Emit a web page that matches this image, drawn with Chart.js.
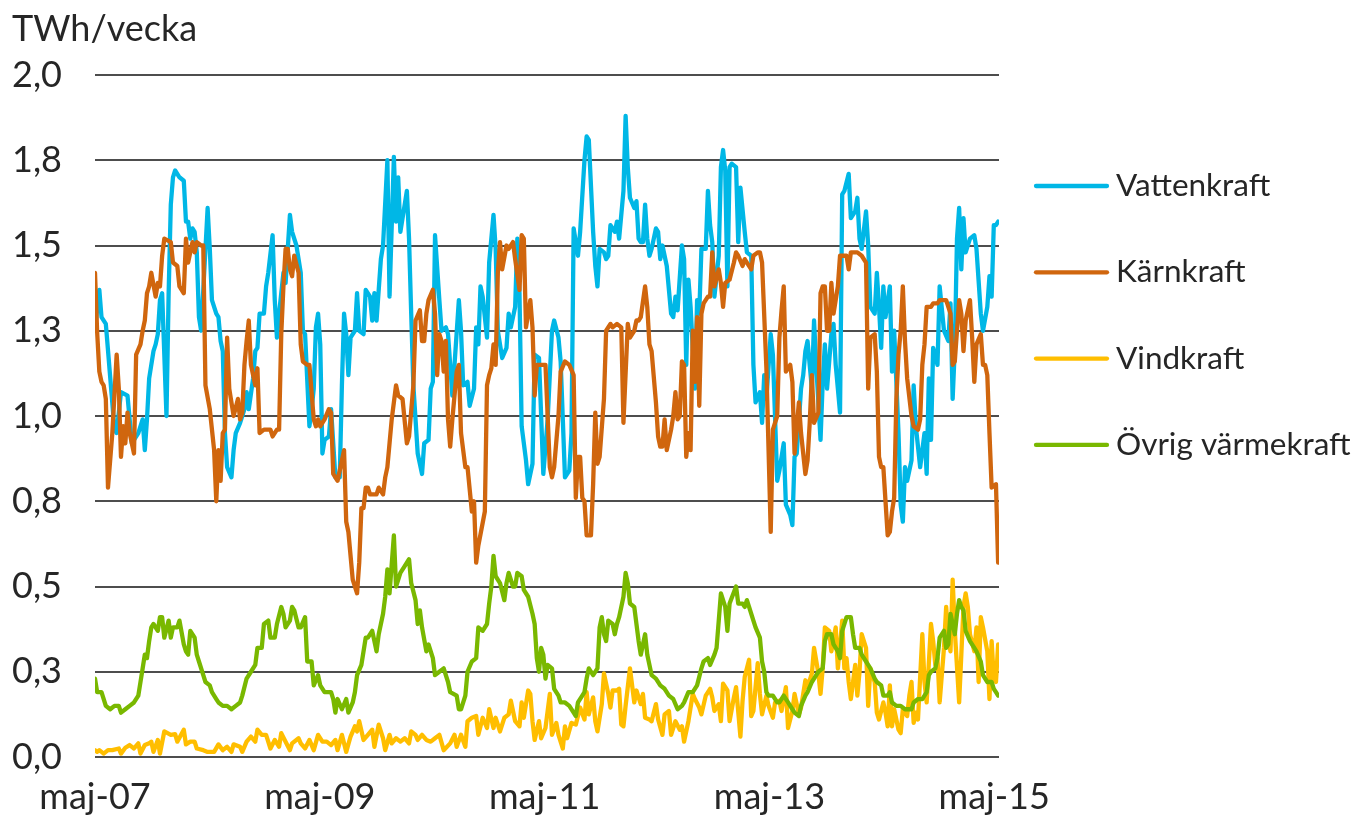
<!DOCTYPE html>
<html><head><meta charset="utf-8">
<script src="https://cdn.jsdelivr.net/npm/chart.js@4.4.0/dist/chart.umd.min.js"></script>
<style>html,body{margin:0;padding:0;background:#fff;}#wrap{width:1355px;height:815px;}</style>
</head><body><div id="wrap"><canvas id="c" width="1355" height="815"></canvas></div>
<script>
// x = week index since maj-07, y = TWh/vecka
const unitLabel = 'TWh/vecka';
const seriesNames = ['Vattenkraft', 'Kärnkraft', 'Vindkraft', 'Övrig värmekraft'];
const seriesColors = ['#00B7E6', '#D0660E', '#FFBE00', '#79B800'];
const tickWeeks = [0, 103.8, 207.6, 311.4, 415.2];
const tickLabels = ['maj-07', 'maj-09', 'maj-11', 'maj-13', 'maj-15'];

const vattenkraft = [[0,1.255],[2,1.37],[3,1.29],[5,1.27],[9,0.96],[10,0.95],[12,1.07],[15,1.06],[17,0.92],[20,0.95],[22,0.99],[23,0.90],[24,0.99],[25,1.11],[27,1.19],[28,1.21],[29,1.24],[30,1.34],[31,1.36],[33,1.00],[34,1.36],[35,1.62],[36,1.70],[37,1.72],[39,1.70],[41,1.69],[42,1.57],[43,1.57],[44,1.52],[45,1.55],[46,1.54],[47,1.48],[48,1.29],[49,1.25],[52,1.61],[53,1.49],[54,1.34],[56,1.30],[57,1.29],[58,1.22],[59,1.19],[60,0.95],[61,0.85],[63,0.82],[64,0.90],[65,0.95],[67,0.98],[69,1.02],[70,1.07],[71,1.02],[73,1.11],[74,1.19],[75,1.20],[76,1.30],[78,1.30],[79,1.38],[80,1.42],[82,1.53],[83,1.34],[84,1.23],[85,1.30],[87,1.42],[88,1.39],[90,1.59],[91,1.54],[93,1.50],[95,1.42],[96,1.25],[97,1.24],[99,0.97],[100,1.02],[101,1.08],[102,1.26],[103,1.30],[104,1.21],[105,0.89],[106,0.93],[108,0.94],[109,1.02],[111,0.82],[113,0.82],[114,1.09],[115,1.30],[116,1.24],[117,1.12],[118,1.23],[120,1.25],[121,1.36],[122,1.25],[124,1.24],[125,1.37],[127,1.35],[128,1.28],[129,1.36],[130,1.28],[132,1.46],[133,1.50],[135,1.75],[136,1.35],[138,1.76],[139,1.57],[140,1.70],[141,1.54],[142,1.58],[144,1.66],[145,1.52],[146,1.30],[147,1.09],[149,0.89],[151,0.83],[152,0.92],[154,0.93],[155,1.08],[156,1.10],[157,1.53],[159,1.34],[160,1.25],[162,1.26],[163,1.24],[164,1.15],[165,1.06],[166,1.15],[168,1.34],[169,1.25],[170,1.09],[172,1.10],[173,1.03],[175,1.08],[176,1.26],[177,1.21],[178,1.38],[179,1.35],[181,1.23],[182,1.45],[184,1.59],[185,1.49],[186,1.25],[188,1.17],[190,1.20],[191,1.30],[192,1.26],[194,1.32],[195,1.52],[196,1.36],[197,0.97],[199,0.87],[200,0.80],[202,0.86],[203,1.18],[205,1.17],[207,0.83],[209,0.99],[211,1.25],[212,1.28],[214,1.23],[215,1.16],[217,0.82],[219,0.84],[220,0.95],[221,1.55],[223,1.47],[224,1.54],[226,1.75],[227,1.82],[228,1.81],[230,1.54],[231,1.44],[232,1.38],[233,1.49],[235,1.48],[236,1.46],[237,1.47],[238,1.56],[240,1.54],[241,1.57],[242,1.52],[244,1.66],[245,1.88],[246,1.73],[247,1.64],[249,1.61],[250,1.63],[251,1.52],[252,1.51],[253,1.51],[254,1.62],[255,1.52],[256,1.47],[257,1.49],[259,1.55],[260,1.54],[261,1.46],[262,1.50],[264,1.44],[266,1.30],[267,1.29],[268,1.35],[269,1.31],[271,1.50],[272,1.46],[273,1.15],[274,1.40],[275,1.32],[277,1.08],[278,1.34],[279,1.30],[280,1.49],[282,1.49],[283,1.66],[284,1.56],[285,1.51],[286,1.35],[288,1.47],[289,1.73],[290,1.78],[291,1.72],[292,1.38],[293,1.73],[294,1.74],[296,1.73],[297,1.51],[298,1.67],[300,1.54],[301,1.48],[303,1.47],[304,1.15],[305,1.04],[307,1.07],[308,0.98],[309,1.12],[310,1.05],[312,1.24],[313,1.18],[315,0.81],[316,0.84],[318,0.92],[319,0.74],[321,0.71],[322,0.68],[323,0.88],[324,0.89],[326,1.08],[327,1.12],[328,1.19],[329,1.22],[331,1.08],[332,1.28],[333,1.15],[335,0.93],[336,1.10],[337,1.21],[338,1.08],[340,1.24],[341,1.27],[342,1.15],[344,1.01],[345,1.65],[346,1.66],[348,1.71],[349,1.58],[351,1.60],[352,1.64],[353,1.52],[354,1.49],[356,1.60],[357,1.50],[358,1.32],[360,1.30],[361,1.42],[362,1.32],[363,1.20],[364,1.38],[365,1.29],[367,1.38],[368,1.13],[369,1.25],[371,0.95],[372,0.74],[373,0.69],[374,0.85],[375,0.81],[377,0.87],[378,1.09],[379,0.97],[381,0.85],[383,0.95],[384,0.83],[385,1.11],[386,0.93],[387,1.20],[389,1.15],[390,1.38],[392,1.25],[394,1.22],[395,1.33],[396,1.05],[397,1.20],[398,1.52],[399,1.61],[400,1.43],[401,1.58],[402,1.48],[404,1.52],[406,1.53],[407,1.49],[409,1.30],[410,1.25],[412,1.32],[413,1.41],[414,1.35],[415,1.56],[416,1.56],[417,1.57]];

const karnkraft = [[0,1.42],[1,1.245],[2,1.13],[3,1.10],[4,1.09],[5,1.05],[6,0.79],[8,0.95],[10,1.18],[11,1.08],[12,0.88],[13,0.97],[14,0.92],[15,1.01],[16,0.95],[18,0.89],[19,1.18],[21,1.21],[22,1.25],[23,1.28],[24,1.36],[25,1.38],[26,1.42],[28,1.35],[29,1.39],[30,1.38],[31,1.47],[32,1.52],[35,1.51],[36,1.45],[38,1.44],[39,1.38],[41,1.36],[42,1.52],[43,1.45],[44,1.48],[45,1.51],[46,1.48],[47,1.51],[49,1.50],[50,1.50],[51,1.09],[53,1.02],[55,0.90],[56,0.75],[57,0.90],[58,0.81],[59,0.95],[60,0.96],[61,1.23],[62,1.08],[64,1.00],[66,1.05],[67,0.99],[68,1.01],[69,1.15],[70,1.22],[71,1.28],[72,1.15],[74,1.09],[75,1.14],[76,0.95],[78,0.96],[81,0.96],[82,0.94],[84,0.96],[85,0.96],[86,1.24],[87,1.38],[88,1.49],[89,1.49],[90,1.43],[91,1.41],[92,1.47],[94,1.42],[95,1.21],[96,1.16],[98,1.15],[99,1.15],[101,0.99],[102,0.97],[103,0.99],[104,0.97],[106,0.99],[108,1.02],[109,1.01],[110,0.83],[112,0.81],[113,0.84],[115,0.90],[116,0.69],[117,0.66],[119,0.52],[121,0.48],[122,0.57],[123,0.73],[124,0.73],[125,0.79],[126,0.79],[127,0.77],[130,0.77],[131,0.79],[133,0.77],[134,0.82],[135,0.85],[136,0.92],[137,0.99],[139,1.09],[140,1.06],[142,1.05],[144,0.92],[145,0.94],[147,1.09],[148,1.28],[150,1.31],[151,1.22],[152,1.22],[153,1.30],[154,1.34],[156,1.37],[157,1.30],[158,1.12],[159,1.24],[160,1.22],[161,1.13],[162,1.22],[163,0.99],[164,0.91],[165,0.99],[167,1.13],[168,1.15],[169,0.95],[171,0.85],[172,0.85],[174,0.72],[175,0.75],[176,0.57],[177,0.62],[180,0.72],[181,1.09],[182,1.12],[183,1.14],[184,1.21],[185,1.15],[186,1.42],[187,1.51],[188,1.43],[190,1.50],[191,1.49],[193,1.51],[194,1.46],[196,1.37],[197,1.53],[198,1.52],[199,1.26],[201,1.34],[202,1.26],[203,1.06],[204,1.15],[205,1.15],[207,1.15],[208,1.15],[210,0.85],[211,0.82],[212,0.85],[214,1.00],[215,1.13],[217,1.16],[219,1.15],[221,1.12],[222,0.76],[223,0.88],[224,0.88],[225,0.76],[226,0.75],[227,0.65],[229,0.65],[230,0.80],[231,1.01],[232,0.86],[233,0.88],[235,1.05],[236,1.25],[238,1.27],[239,1.26],[241,1.27],[243,1.26],[244,0.98],[246,1.27],[247,1.23],[249,1.25],[250,1.28],[251,1.28],[252,1.29],[254,1.38],[255,1.32],[256,1.21],[257,1.19],[259,1.04],[260,0.94],[261,0.91],[262,0.91],[263,0.99],[264,0.90],[266,0.96],[267,1.00],[268,1.07],[269,0.99],[270,1.00],[271,1.16],[272,1.15],[273,0.88],[274,0.95],[275,0.90],[276,1.25],[277,1.10],[278,1.29],[279,1.03],[280,1.30],[281,1.33],[283,1.35],[284,1.35],[285,1.48],[286,1.38],[288,1.43],[289,1.39],[290,1.32],[291,1.39],[293,1.40],[295,1.45],[296,1.48],[297,1.47],[299,1.44],[300,1.46],[301,1.45],[303,1.43],[304,1.47],[306,1.48],[307,1.48],[308,1.45],[310,1.14],[312,0.66],[313,0.96],[315,1.00],[316,1.23],[317,1.31],[318,1.38],[319,1.13],[321,1.15],[322,1.10],[323,0.89],[325,1.04],[326,0.95],[328,0.83],[329,0.87],[330,0.98],[331,1.12],[332,0.98],[334,1.01],[335,1.36],[336,1.38],[337,1.38],[338,1.25],[339,1.25],[340,1.39],[341,1.30],[343,1.38],[344,1.47],[346,1.47],[347,1.47],[348,1.43],[349,1.48],[352,1.48],[354,1.47],[356,1.45],[357,1.08],[358,1.23],[360,1.24],[361,1.13],[362,0.88],[363,0.85],[364,0.85],[365,0.75],[366,0.65],[367,0.66],[368,0.72],[369,0.76],[370,1.05],[371,1.18],[372,1.25],[373,1.38],[374,1.22],[375,1.11],[377,1.00],[378,0.97],[380,0.96],[381,0.99],[382,1.15],[383,1.21],[384,1.32],[386,1.32],[387,1.33],[389,1.33],[390,1.34],[392,1.34],[393,1.34],[395,1.30],[396,1.15],[397,1.16],[399,1.34],[400,1.30],[401,1.19],[402,1.28],[404,1.34],[405,1.23],[406,1.10],[407,1.21],[409,1.24],[410,1.15],[411,1.15],[412,1.12],[413,0.95],[414,0.79],[416,0.80],[417,0.57]];

const vindkraft = [[0,0.02],[1,0.015],[2,0.02],[4,0.01],[6,0.02],[8,0.02],[11,0.025],[12,0.01],[14,0.027],[16,0.035],[18,0.025],[20,0.04],[21,0.01],[23,0.035],[25,0.04],[26,0.045],[27,0.015],[29,0.05],[30,0.01],[32,0.075],[35,0.065],[37,0.067],[38,0.045],[41,0.08],[42,0.037],[44,0.045],[46,0.045],[47,0.025],[50,0.02],[52,0.015],[55,0.015],[57,0.037],[59,0.02],[61,0.03],[63,0.015],[64,0.037],[67,0.03],[68,0.015],[70,0.045],[72,0.06],[74,0.045],[75,0.08],[77,0.065],[79,0.065],[81,0.025],[83,0.05],[85,0.03],[86,0.07],[88,0.045],[90,0.02],[91,0.04],[94,0.055],[95,0.04],[97,0.025],[99,0.05],[101,0.02],[103,0.065],[105,0.045],[107,0.045],[109,0.035],[111,0.05],[112,0.02],[114,0.065],[116,0.015],[118,0.06],[120,0.09],[121,0.075],[122,0.105],[124,0.05],[126,0.065],[128,0.08],[129,0.03],[131,0.095],[133,0.055],[134,0.02],[136,0.065],[137,0.04],[139,0.055],[141,0.045],[143,0.055],[145,0.04],[146,0.075],[148,0.065],[149,0.05],[151,0.065],[153,0.05],[155,0.045],[157,0.055],[159,0.065],[161,0.02],[164,0.04],[166,0.065],[167,0.03],[169,0.065],[171,0.03],[172,0.105],[174,0.115],[176,0.12],[177,0.065],[179,0.115],[181,0.085],[182,0.14],[184,0.085],[185,0.115],[187,0.075],[189,0.115],[191,0.125],[192,0.165],[194,0.105],[196,0.09],[197,0.16],[198,0.115],[200,0.195],[201,0.185],[202,0.105],[203,0.05],[205,0.105],[206,0.055],[208,0.085],[210,0.185],[211,0.065],[213,0.10],[214,0.065],[216,0.025],[217,0.09],[218,0.055],[220,0.10],[222,0.095],[223,0.12],[224,0.145],[226,0.11],[227,0.19],[228,0.125],[230,0.175],[231,0.105],[232,0.075],[234,0.155],[235,0.245],[237,0.185],[238,0.145],[239,0.195],[241,0.195],[242,0.20],[243,0.095],[244,0.09],[245,0.15],[247,0.26],[249,0.16],[250,0.195],[252,0.155],[253,0.185],[254,0.115],[256,0.11],[257,0.105],[259,0.155],[260,0.11],[262,0.065],[263,0.125],[265,0.135],[266,0.065],[268,0.105],[270,0.08],[271,0.09],[272,0.045],[274,0.105],[276,0.185],[277,0.17],[279,0.145],[280,0.125],[282,0.18],[284,0.20],[285,0.175],[286,0.135],[288,0.155],[289,0.105],[290,0.215],[292,0.195],[293,0.105],[295,0.175],[296,0.205],[298,0.06],[299,0.165],[300,0.235],[302,0.285],[303,0.12],[304,0.135],[306,0.275],[307,0.185],[308,0.125],[310,0.18],[311,0.15],[313,0.115],[314,0.16],[316,0.165],[317,0.135],[319,0.205],[320,0.085],[322,0.135],[323,0.185],[325,0.125],[326,0.145],[328,0.225],[329,0.205],[331,0.245],[332,0.32],[334,0.245],[335,0.185],[336,0.26],[337,0.38],[339,0.37],[340,0.31],[342,0.38],[343,0.26],[345,0.40],[346,0.26],[347,0.29],[348,0.22],[349,0.17],[351,0.27],[352,0.18],[353,0.25],[354,0.36],[356,0.32],[357,0.15],[358,0.26],[360,0.22],[361,0.13],[362,0.11],[364,0.16],[365,0.13],[366,0.09],[367,0.21],[368,0.09],[369,0.14],[371,0.08],[372,0.07],[373,0.14],[375,0.12],[376,0.18],[377,0.22],[378,0.10],[379,0.13],[380,0.11],[382,0.36],[383,0.22],[384,0.16],[386,0.39],[387,0.34],[388,0.27],[389,0.29],[390,0.16],[392,0.32],[393,0.44],[394,0.35],[395,0.31],[396,0.52],[397,0.37],[399,0.16],[400,0.30],[401,0.44],[402,0.48],[403,0.44],[404,0.36],[406,0.31],[407,0.38],[408,0.22],[409,0.41],[410,0.38],[412,0.31],[413,0.17],[414,0.34],[415,0.23],[416,0.22],[417,0.33]];

const ovrigVarmekraft = [[0,0.23],[1,0.19],[3,0.19],[5,0.15],[7,0.14],[9,0.15],[11,0.15],[12,0.13],[14,0.14],[16,0.15],[18,0.16],[20,0.18],[21,0.22],[22,0.26],[23,0.30],[24,0.29],[25,0.34],[26,0.38],[27,0.39],[29,0.37],[30,0.41],[31,0.41],[32,0.35],[34,0.40],[35,0.35],[36,0.38],[38,0.38],[39,0.40],[41,0.33],[42,0.31],[43,0.30],[44,0.37],[46,0.35],[47,0.30],[48,0.28],[50,0.24],[51,0.22],[53,0.21],[54,0.19],[56,0.17],[57,0.16],[59,0.15],[61,0.15],[63,0.14],[65,0.15],[67,0.16],[68,0.18],[70,0.23],[72,0.25],[74,0.27],[75,0.32],[77,0.32],[78,0.39],[80,0.40],[81,0.35],[83,0.35],[84,0.39],[86,0.44],[87,0.42],[88,0.38],[90,0.40],[91,0.44],[92,0.43],[94,0.38],[95,0.38],[97,0.41],[98,0.28],[100,0.28],[101,0.21],[103,0.24],[104,0.21],[106,0.19],[107,0.19],[109,0.19],[110,0.17],[111,0.13],[112,0.17],[114,0.14],[116,0.17],[117,0.13],[119,0.16],[120,0.19],[121,0.24],[123,0.27],[125,0.35],[126,0.35],[128,0.37],[130,0.31],[131,0.36],[133,0.42],[134,0.47],[135,0.55],[136,0.48],[138,0.65],[139,0.50],[141,0.54],[143,0.56],[145,0.58],[146,0.51],[148,0.46],[149,0.39],[150,0.43],[151,0.38],[153,0.31],[154,0.33],[156,0.29],[157,0.24],[159,0.25],[161,0.26],[163,0.22],[164,0.19],[167,0.18],[168,0.14],[169,0.14],[171,0.18],[172,0.25],[174,0.28],[176,0.29],[177,0.38],[179,0.37],[181,0.39],[182,0.45],[183,0.50],[184,0.59],[185,0.53],[187,0.51],[189,0.46],[190,0.51],[191,0.54],[193,0.50],[194,0.50],[195,0.54],[197,0.53],[198,0.49],[200,0.47],[202,0.42],[203,0.39],[204,0.29],[205,0.25],[206,0.32],[207,0.30],[208,0.23],[209,0.27],[211,0.26],[212,0.20],[214,0.18],[215,0.16],[217,0.16],[219,0.15],[221,0.13],[222,0.12],[223,0.16],[225,0.18],[226,0.19],[227,0.23],[228,0.26],[230,0.24],[232,0.26],[233,0.38],[234,0.41],[235,0.36],[236,0.34],[237,0.40],[239,0.39],[240,0.36],[241,0.39],[242,0.41],[244,0.47],[245,0.54],[246,0.51],[247,0.45],[249,0.44],[251,0.34],[252,0.30],[254,0.36],[255,0.30],[257,0.24],[259,0.23],[261,0.21],[263,0.20],[265,0.18],[267,0.17],[269,0.14],[271,0.15],[272,0.16],[274,0.19],[276,0.19],[278,0.21],[280,0.26],[281,0.28],[283,0.29],[284,0.27],[286,0.30],[287,0.32],[288,0.40],[289,0.48],[291,0.44],[292,0.37],[293,0.45],[296,0.50],[297,0.45],[299,0.45],[300,0.44],[301,0.46],[302,0.44],[304,0.40],[305,0.38],[307,0.35],[308,0.28],[309,0.25],[310,0.19],[311,0.18],[313,0.18],[315,0.16],[316,0.16],[318,0.18],[320,0.16],[322,0.14],[323,0.13],[325,0.12],[326,0.15],[328,0.18],[329,0.19],[331,0.22],[332,0.23],[334,0.25],[336,0.26],[337,0.34],[338,0.36],[340,0.36],[341,0.33],[343,0.31],[344,0.29],[345,0.37],[347,0.41],[349,0.41],[350,0.36],[351,0.32],[353,0.32],[354,0.30],[356,0.28],[358,0.26],[360,0.23],[361,0.22],[363,0.21],[364,0.18],[366,0.18],[367,0.19],[368,0.16],[370,0.15],[372,0.15],[374,0.14],[375,0.14],[377,0.14],[378,0.16],[380,0.17],[382,0.17],[384,0.19],[385,0.24],[386,0.25],[388,0.26],[389,0.29],[390,0.35],[392,0.37],[393,0.32],[394,0.33],[395,0.42],[397,0.36],[398,0.42],[399,0.46],[400,0.44],[401,0.43],[402,0.37],[404,0.34],[406,0.32],[407,0.31],[409,0.28],[410,0.24],[412,0.22],[414,0.22],[415,0.20],[416,0.19],[417,0.18]];

const seriesData = [vattenkraft, karnkraft, vindkraft, ovrigVarmekraft];
const FONT = 'Lato';
const TEXT = '#262626';

const rightLegend = {
  id: 'rightLegend',
  afterDraw(chart) {
    const ctx = chart.ctx;
    ctx.save();
    chart.data.datasets.forEach((ds, i) => {
      const y = 186 + i * 86.3;
      ctx.strokeStyle = ds.borderColor;
      ctx.lineWidth = 4.3;
      ctx.lineCap = 'round';
      ctx.beginPath();
      ctx.moveTo(1036, y);
      ctx.lineTo(1107, y);
      ctx.stroke();
      ctx.fillStyle = TEXT;
      ctx.font = '31.5px ' + FONT;
      ctx.textAlign = 'left';
      ctx.textBaseline = 'middle';
      ctx.fillText(ds.label, 1116, y);
    });
    ctx.restore();
  }
};

new Chart(document.getElementById('c'), {
  type: 'line',
  data: {
    datasets: seriesNames.map((name, i) => ({
      label: name,
      data: seriesData[i].map(p => ({x: p[0], y: p[1]})),
      borderColor: seriesColors[i],
      backgroundColor: seriesColors[i],
      borderWidth: 4.3,
      pointRadius: 0,
      tension: 0,
      fill: false,
      borderJoinStyle: 'round',
      borderCapStyle: 'round',
      order: 4 - i
    }))
  },
  options: {
    responsive: false,
    animation: false,
    devicePixelRatio: 1,
    layout: {padding: {left: 12, top: 8, right: 356, bottom: 0}},
    plugins: {
      legend: {display: false},
      tooltip: {enabled: false},
      title: {
        display: true, text: unitLabel, align: 'start', color: TEXT,
        font: {family: FONT, size: 36, weight: 'normal'},
        padding: {top: 0, bottom: 23.8}
      }
    },
    scales: {
      x: {
        type: 'linear', min: 0, max: 417.4,
        grid: {display: false},
        border: {display: false},
        afterBuildTicks: s => { s.ticks = tickWeeks.map(v => ({value: v})); },
        afterFit: s => { s.height = 58; },
        ticks: {
          autoSkip: false, maxRotation: 0, padding: 11, color: TEXT,
          font: {family: FONT, size: 36},
          callback: (v, i) => tickLabels[i]
        }
      },
      y: {
        min: 0, max: 2,
        grid: {color: '#4d4d4d', lineWidth: 2, drawTicks: false},
        border: {display: false},
        afterFit: s => { s.width = 83; },
        ticks: {
          stepSize: 0.25, padding: 33, color: TEXT,
          font: {family: FONT, size: 36},
          callback: v => v.toFixed(1).replace('.', ',')
        }
      }
    }
  },
  plugins: [rightLegend]
});
</script></body></html>
